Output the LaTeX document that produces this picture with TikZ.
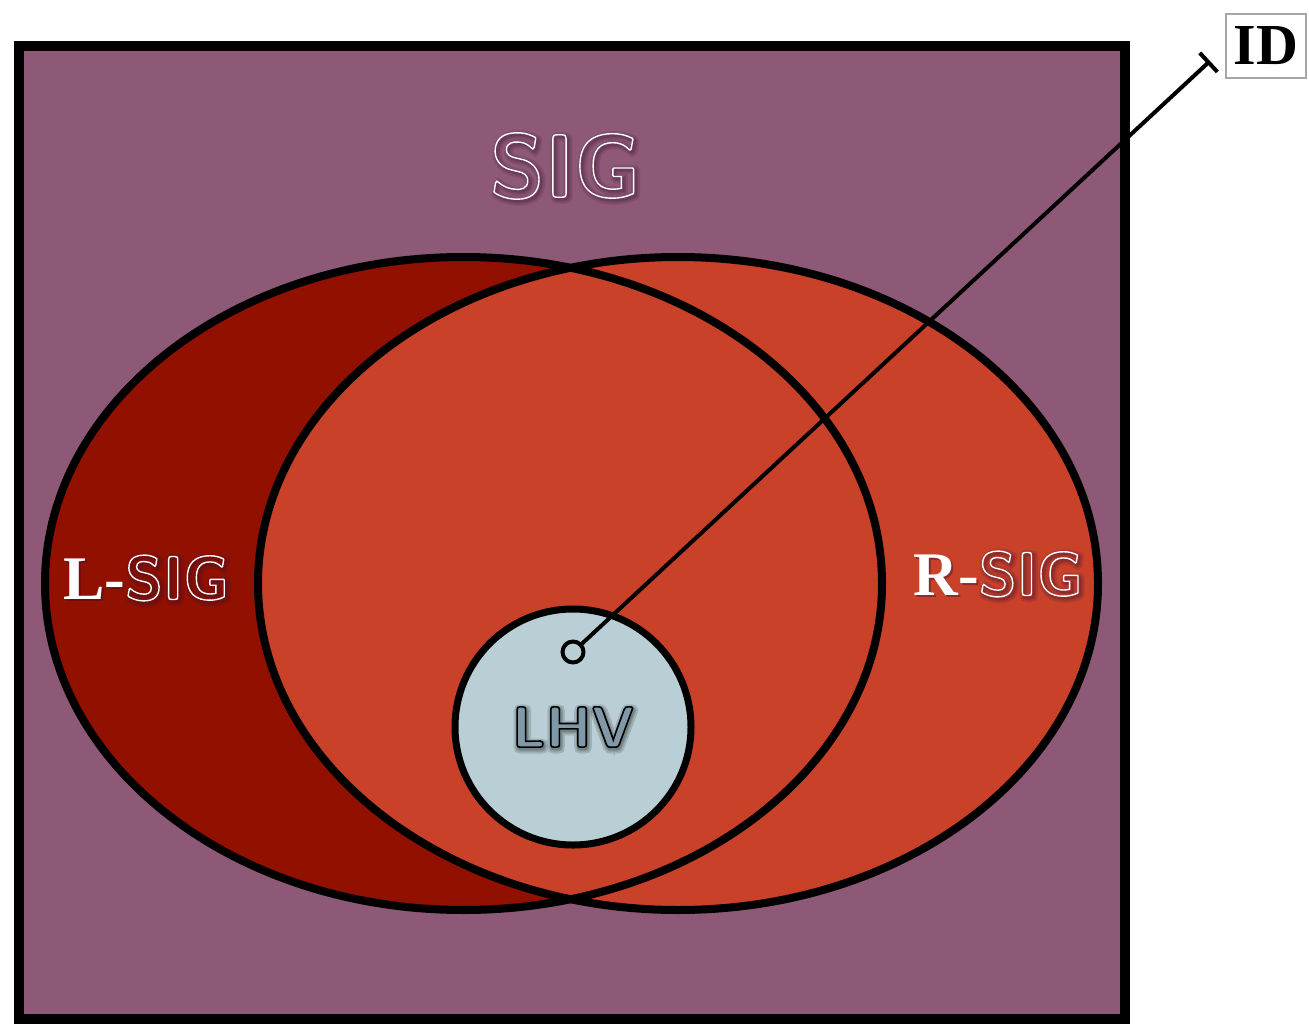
\documentclass[tikz,border=0pt]{standalone}
\usepackage{fontspec}
\newfontfamily\timesfont{Liberation Serif}
\usetikzlibrary{arrows.meta}
\definecolor{sigpurple}{HTML}{8E5977}
\definecolor{lsigred}{HTML}{911000}
\definecolor{rsigred}{HTML}{C94129}
\definecolor{lhvblue}{HTML}{B9CFD5}
\definecolor{lhvink}{HTML}{7F99A8}
\definecolor{glowdark}{HTML}{3A1030}
\newcommand{\hollow}[2][1.4]{\special{pdf:literal direct 1 Tr #1 w}#2\special{pdf:literal direct 0 Tr}}
\newcommand{\inked}[2][1.4]{\special{pdf:literal direct 2 Tr #1 w 0 G}#2\special{pdf:literal direct 0 Tr}}
\begin{document}
\begin{tikzpicture}[x=1pt,y=-1pt,
    bigsig/.style={inner sep=0pt, font=\fontsize{90}{92}\selectfont\sffamily\bfseries},
    sidesig/.style={inner sep=0pt, font=\fontsize{62}{64}\selectfont\sffamily\bfseries},
    lhvtext/.style={inner sep=0pt, font=\fontsize{58}{60}\selectfont\sffamily\bfseries},
    glow/.style={text=glowdark, text opacity=0.16},
    darkglow/.style={text=black, text opacity=0.14}]
    \useasboundingbox (0,0) rectangle (1309,1025);
    \draw[line width=10pt, fill=sigpurple] (18.5,46) rectangle (1125,1019);
    % the two signalling regions
    \fill[lsigred] (463.5,583.5) ellipse [x radius=418.5, y radius=326.5];
    \draw[line width=8pt, fill=rsigred] (678,583.5) ellipse [x radius=420, y radius=326.5];
    \draw[line width=8pt] (463.5,583.5) ellipse [x radius=418.5, y radius=326.5];
    \node[circle, draw, line width=7pt, fill=lhvblue, minimum size=236pt] (lhvzone) at (573,727) {};
    % labels, each over a soft glow
    \foreach \w in {9,5,2.5} {
        \node[bigsig, glow] at (567,168) {\hollow[\w]{SIG}};
        \node[sidesig, glow] at (148,580) {{\timesfont\bfseries L-}\hollow[\w]{SIG}};
        \node[sidesig, glow] at (1000,576) {{\timesfont\bfseries R-}\hollow[\w]{SIG}};
        \node[lhvtext, darkglow] at (574,729) {\hollow[\w]{LHV}};
    }
    \node[bigsig, text=white] (sig) at (565,166) {\hollow{SIG}};
    \node[sidesig, text=white] (lsig) at (146,578) {{\timesfont\bfseries L-}\hollow{SIG}};
    \node[sidesig, text=white] (rsig) at (998,574) {{\timesfont\bfseries R-}\hollow{SIG}};
    \node[lhvtext, text=lhvink] (lhv) at (573,727) {\inked[1.6]{LHV}};
    % identifier box and its pointer
    \node[draw=gray!70, line width=2pt, fill=white, minimum width=80pt, minimum height=64pt,
        inner sep=0pt, font=\fontsize{58}{60}\selectfont\timesfont\bfseries] (id) at (1266,46) {ID};
    \coordinate (idtip) at (1210,61);
    \node[circle, draw, line width=4pt, fill=lhvblue, minimum size=21pt, inner sep=0pt] (mark) at (573,652) {};
    \draw[line width=4pt, -{Bar[width=26pt, line width=4pt]}] (mark) -- (idtip);
\end{tikzpicture}
\end{document}
